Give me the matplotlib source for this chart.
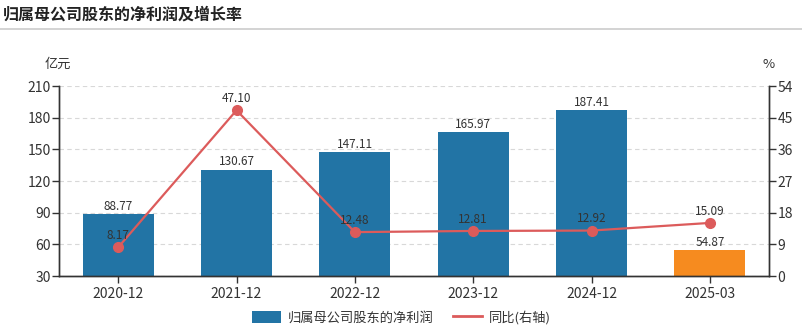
import matplotlib

matplotlib.use("Agg")
import matplotlib.pyplot as plt
from matplotlib.lines import Line2D
from matplotlib.patches import Patch

plt.rcParams["font.family"] = ["Noto Sans CJK SC", "DejaVu Sans"]

# data
periods = ["2020-12", "2021-12", "2022-12", "2023-12", "2024-12", "2025-03"]
profit = [88.77, 130.67, 147.11, 165.97, 187.41, 54.87]
yoy = [8.17, 47.10, 12.48, 12.81, 12.92, 15.09]
left_ticks = [30, 60, 90, 120, 150, 180, 210]
right_ticks = [0, 9, 18, 27, 36, 45, 54]

BLUE = "#2274a5"
ORANGE = "#f68b1f"
RED = "#dc5b5b"
TXT = "#333333"

fig = plt.figure(figsize=(8.03, 3.29), dpi=100)
ax = fig.add_axes([0.0735, 0.161, 0.8842, 0.5776])
ax2 = ax.twinx()

x = list(range(len(periods)))
colors = [BLUE] * (len(periods) - 1) + [ORANGE]
ax.bar(x, [p - left_ticks[0] for p in profit], bottom=left_ticks[0], width=0.6,
       color=colors, zorder=2)
for xi, p in zip(x, profit):
    ax.text(xi, p + 1.2, f"{p:.2f}", ha="center", va="bottom", fontsize=8.5, color=TXT)

ax2.plot(x, yoy, color=RED, lw=1.6, marker="o", ms=7, zorder=3)
for xi, v in zip(x, yoy):
    ax2.text(xi, v + 1.5, f"{v:.2f}", ha="center", va="bottom", fontsize=8.5, color=TXT, zorder=4)

ax.set_xlim(-0.5, len(periods) - 0.5)
ax.set_ylim(left_ticks[0], left_ticks[-1])
ax.set_yticks(left_ticks)
ax2.set_ylim(right_ticks[0], right_ticks[-1])
ax2.set_yticks(right_ticks)
ax.set_xticks(x)
ax.set_xticklabels(periods)

ax.grid(axis="y", color="#d8d8d8", ls=(0, (4, 3)), lw=0.8, zorder=0)
ax.set_axisbelow(True)
for a in (ax, ax2):
    a.spines["top"].set_visible(False)
    for s in ("left", "right", "bottom"):
        a.spines[s].set_color(TXT)
        a.spines[s].set_linewidth(1.0)
    a.tick_params(colors=TXT, labelsize=10, length=5, width=1.0, pad=1)
ax.tick_params(axis="x", labelsize=10, pad=3)

fig.text(0.072, 0.785, "亿元", ha="center", va="bottom", fontsize=9.5, color=TXT)
fig.text(0.9577, 0.785, "%", ha="center", va="bottom", fontsize=9.5, color=TXT)

fig.text(0.004, 0.957, "归属母公司股东的净利润及增长率", ha="left", va="center",
         fontsize=11.5, fontweight="bold", color="#222222")
fig.add_artist(Line2D([0, 1], [0.912, 0.912], color="#cccccc", lw=1.2,
                      transform=fig.transFigure))

handles = [Patch(facecolor=BLUE, edgecolor="none"),
           Line2D([0], [0], color=RED, lw=2)]
fig.legend(handles, ["归属母公司股东的净利润", "同比(右轴)"], loc="center",
           bbox_to_anchor=(0.5, 0.035), ncol=2, frameon=False, fontsize=9.5,
           handlelength=2.2, handleheight=1.0, columnspacing=1.5, handletextpad=0.5,
           labelcolor=TXT)

fig.savefig("out.png", dpi=100)
